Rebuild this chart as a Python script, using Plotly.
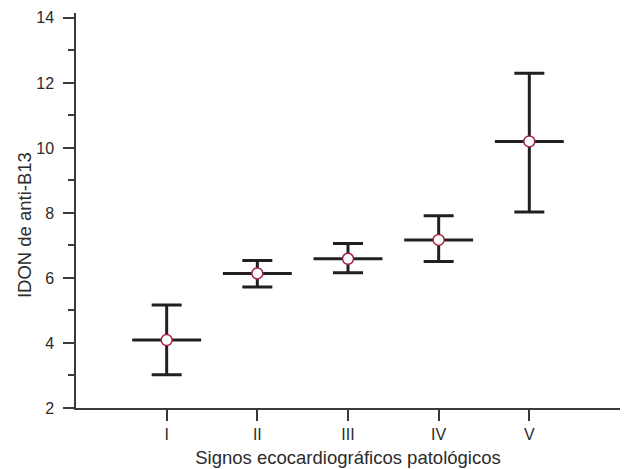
import plotly.graph_objects as go

categories = ["I", "II", "III", "IV", "V"]
means = [4.09, 6.14, 6.59, 7.17, 10.2]
upper = [5.17, 6.54, 7.06, 7.91, 12.3]
lower = [3.02, 5.72, 6.16, 6.51, 8.03]
mean_halfwidth = [0.38, 0.38, 0.38, 0.38, 0.38]

xpos = list(range(1, len(categories) + 1))
err_plus = [u - m for u, m in zip(upper, means)]
err_minus = [m - l for m, l in zip(means, lower)]

ink = "#231f20"
axis_col = "#3a3a3a"
text_col = "#2b2b2b"
font_family = "Liberation Sans, Arial, sans-serif"

fig = go.Figure()
fig.add_trace(go.Scatter(
    x=xpos, y=means, mode="markers",
    marker=dict(symbol="circle", size=11, color="white",
                line=dict(color="#a3213e", width=1.5)),
    error_y=dict(type="data", symmetric=False, array=err_plus, arrayminus=err_minus,
                 color=ink, thickness=3, width=15),
    error_x=dict(type="data", symmetric=True, array=mean_halfwidth,
                 color=ink, thickness=3, width=0),
    showlegend=False,
))

fig.update_layout(
    width=627, height=469,
    margin=dict(l=76, r=7, t=13, b=61, autoexpand=False),
    paper_bgcolor="white", plot_bgcolor="white",
    font=dict(family=font_family, size=16, color=text_col),
    xaxis=dict(
        range=[0, 6], tickvals=xpos, ticktext=categories,
        showline=True, linecolor=axis_col, linewidth=1.5,
        ticks="outside", ticklen=11, tickwidth=1.5, tickcolor=axis_col,
        showgrid=False, zeroline=False, automargin=False,
        title=dict(text="Signos ecocardiográficos patológicos", standoff=9,
                   font=dict(size=18.5, color=text_col, family=font_family)),
        tickfont=dict(size=16, color=text_col, family=font_family),
    ),
    yaxis=dict(
        range=[2, 14.15], tickvals=[2, 4, 6, 8, 10, 12, 14],
        showline=True, linecolor=axis_col, linewidth=1.5,
        ticks="outside", ticklen=11, tickwidth=1.5, tickcolor=axis_col,
        ticklabelstandoff=6,
        minor=dict(tickvals=[3, 5, 7, 9, 11, 13], ticks="outside", ticklen=6,
                   tickwidth=1.5, tickcolor=axis_col, showgrid=False),
        showgrid=False, zeroline=False, automargin=False,
        tickfont=dict(size=16, color=text_col, family=font_family),
    ),
    annotations=[dict(
        text="IDON de anti-B13", xref="paper", yref="paper",
        x=-0.0956, y=0.463, xanchor="center", yanchor="middle",
        textangle=-90, showarrow=False,
        font=dict(size=18.5, color=text_col, family=font_family),
    )],
)

fig.write_html("out.html", config={"displayModeBar": False},
               post_script="document.body.style.margin='0';document.body.style.padding='0';")
